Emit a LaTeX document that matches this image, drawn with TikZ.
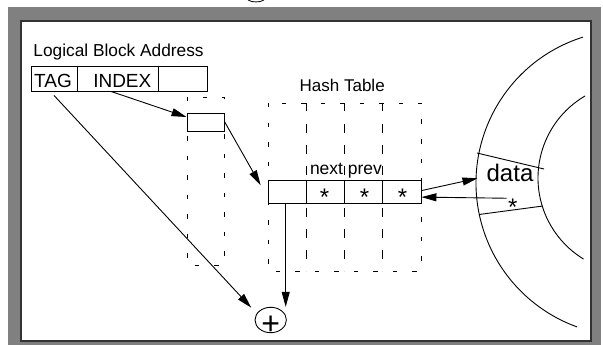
\documentclass[tikz,border=0pt]{standalone}
\usepackage{fontspec}
\setmainfont{Liberation Sans}
\usetikzlibrary{arrows.meta,shapes.geometric}

\definecolor{framegray}{HTML}{808080}
\definecolor{frameedge}{HTML}{333333}

\begin{document}
\begin{tikzpicture}[x=1pt,y=-1pt,
  line width=0.9pt,
  arr/.style={-{Triangle[length=15pt,width=8pt]}},
  cell/.style={draw,rectangle,inner sep=0pt,minimum height=25pt},
  txt/.style={inner sep=0pt,anchor=base},
  startxt/.style={txt,font=\fontsize{24}{26}\selectfont},
  dashout/.style={dash pattern=on 4.5pt off 15pt},
  dashin/.style={dash pattern=on 8.5pt off 12.5pt}]
\useasboundingbox (0,0) rectangle (603,345);

% window frame
\fill[framegray] (8,7) rectangle (601,345);
\filldraw[fill=white,draw=frameedge,line width=1.2pt] (21,21) rectangle (591,341);
% descender of the cropped caption above the frame
\draw[line width=0.8pt] (248,0) .. controls (252,2.6) and (260,2.6) .. (264,0);

% logical block address
\node[txt,anchor=base west,font=\fontsize{17.3}{20}\selectfont] (lbatitle) at (33,56.5) {Logical Block Address};
\node[cell,minimum width=46pt] (tag) at (54,78.5) {};
\node[cell,minimum width=81pt] (index) at (117.5,78.5) {};
\node[cell,minimum width=49pt] (spare) at (182.5,78.5) {};
\node[txt,font=\fontsize{19}{22}\selectfont] (tagtxt) at (53,87.7) {TAG};
\node[txt,font=\fontsize{19}{22}\selectfont] (indextxt) at (122.3,87.7) {INDEX};

% index column
\draw[dashout] (187,97) rectangle (224,265);
\node[draw,rectangle,fill=white,inner sep=0pt,minimum width=37pt,minimum height=18.5pt] (bucket) at (205.5,122.5) {};

% hash table
\node[txt,font=\fontsize{17}{20}\selectfont] (httitle) at (342.2,91.5) {Hash Table};
\draw[dashout] (268,103) rectangle (421,271);
\foreach \cx in {306,344,382}
  \draw[dashin] (\cx,103) -- (\cx,271);
\node[draw,rectangle,fill=white,inner sep=0pt,minimum width=153pt,minimum height=23.3pt] (entry) at (344.5,191.6) {};
\foreach \cx in {306,344,382}
  \draw (\cx,180) -- (\cx,203.2);
\node[txt,font=\fontsize{17.5}{20}\selectfont] (np) at (346,174) {next prev};
\node[startxt] (s1) at (324.5,205.5) {*};
\node[startxt] (s2) at (364.5,205.5) {*};
\node[startxt] (s3) at (402.5,205.5) {*};

% disk tracks
\draw (583,37.1) arc[start angle=-107.5,end angle=-250.1,radius=153];
\draw (585,96) arc[start angle=-120.35,end angle=-238.6,radius=95];
\draw (477,153) -- (544,169);
\draw (479,214.5) -- (543,206);
\node[txt,font=\fontsize{24}{28}\selectfont] (data) at (510,181) {data};
\node[startxt] (dstar) at (512.7,215.5) {*};
\coordinate (sectoredge) at (477.5,178.3);

% adder
\node[draw,ellipse,inner sep=0pt,minimum width=31.4pt,minimum height=25.4pt] (plus) at (270.7,320) {};
\node[txt,font=\fontsize{32}{34}\selectfont] (plussign) at (270.6,334.5) {+};

% connectors
\draw[arr] ([xshift=-6.5pt]index.south) -- ([yshift=5.5pt]bucket.west);
\draw[arr] ([yshift=1pt]bucket.east) -- ([xshift=-7pt,yshift=6.5pt]entry.west);
\draw[arr] ([yshift=-4pt]tag.south) -- ([xshift=-8pt,yshift=3pt]plus.north west);
\draw[arr] ([xshift=-58.8pt]entry.south) -- ([xshift=-58.8pt]entry.south |- plus.north);
\draw[arr] ([yshift=1pt]entry.east) -- (sectoredge);
\draw[arr] ([xshift=-1pt,yshift=9pt]dstar.west) -- ([yshift=-5.5pt]entry.east);
\end{tikzpicture}
\end{document}
